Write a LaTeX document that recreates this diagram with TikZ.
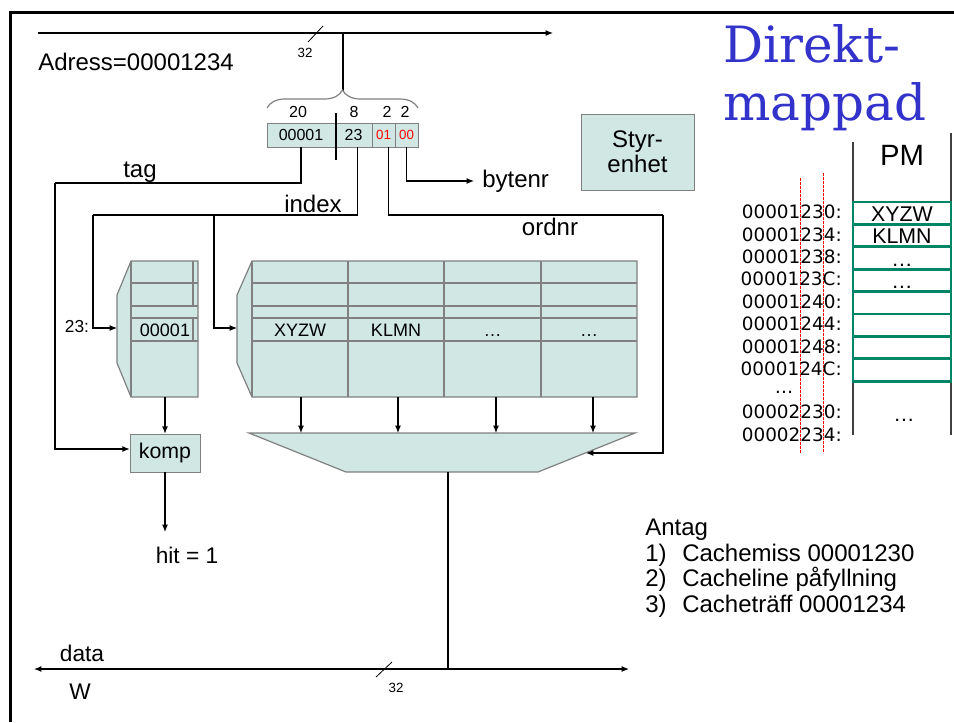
\documentclass[tikz,border=0pt]{standalone}
\usepackage{fontspec}
\setmainfont{Liberation Sans}
\newfontfamily\titlefont{DejaVu Serif}
\newfontfamily\adrfont{DejaVu Sans}
\usetikzlibrary{arrows.meta, positioning, decorations.pathreplacing}
\definecolor{cellfill}{RGB}{208,231,228}
\definecolor{cellline}{RGB}{128,128,128}
\definecolor{pmgreen}{RGB}{0,133,102}
\definecolor{titleblue}{RGB}{51,51,204}
\tikzset{
  field/.style={
    draw=cellline,
    fill=cellfill,
    rectangle,
    inner sep=0pt,
    outer sep=0pt,
    minimum height=18pt,
    font=\fontsize{12}{14}\selectfont
  },
  redfield/.style={
    field,
    text=red,
    font=\fontsize{10}{12}\selectfont
  },
  box/.style={
    draw=cellline,
    fill=cellfill,
    rectangle,
    inner sep=0pt,
    align=center
  },
  wire/.style={
    draw=black,
    line width=0.9pt
  },
  arrow/.style={
    wire,
    -{Latex[length=5.5pt,width=4.5pt]}
  },
  memline/.style={
    draw=cellline,
    line width=0.9pt
  },
  pmline/.style={
    draw=black!75,
    line width=1pt
  },
  redline/.style={
    draw=red,
    line width=0.6pt,
    dash pattern=on 2pt off 1pt
  },
  lbl/.style={
    inner sep=0pt,
    font=\fontsize{18}{19.1}\selectfont
  },
  bits/.style={
    inner sep=0pt,
    font=\fontsize{12}{14}\selectfont
  },
  celltext/.style={
    inner sep=0pt,
    anchor=base,
    font=\fontsize{13.5}{15}\selectfont
  },
  pmrow/.style={
    draw=pmgreen,
    line width=2pt,
    rectangle,
    minimum width=73.5pt,
    minimum height=16.8pt,
    inner sep=0pt
  },
  pmtext/.style={
    inner sep=0pt,
    anchor=base,
    font=\fontsize{16}{18}\selectfont
  },
  adr/.style={
    inner sep=0pt,
    anchor=east,
    font=\adrfont\fontsize{13.8}{15}\selectfont
  },
  title/.style={
    inner sep=0pt,
    anchor=base west,
    text=titleblue,
    font=\titlefont\fontsize{37.5}{43}\selectfont
  }
}

\begin{document}
\begin{tikzpicture}[x=0.75pt, y=-0.75pt, node distance=0pt]
\useasboundingbox (0,0) rectangle (954,722);

% ram
\draw[line width=2.25pt] (10,722) -- (10,12) -- (954,12);

% adressbuss
\coordinate (abusL) at (38,33);
\coordinate (abusR) at (553,33);
\coordinate (abtap) at (343,33);
\coordinate (brtip) at (343,91);
\draw[arrow] (abusL) -- (abusR);
\draw[wire, line width=0.6pt] (308,42) -- (323,26);
\node[bits, font=\fontsize{10}{12}\selectfont] (abw) at (305,53) {32};
\node[lbl, anchor=west] (adress) at (38,62) {Adress=00001234};
\draw[wire] (abtap) -- (brtip);
\draw[memline, decorate, decoration={brace, amplitude=13.5pt}] (267,108) -- (418,108);

% adressfaelt
\node[bits] (b20) at (298,112) {20};
\node[bits] (b8) at (354,112) {8};
\node[bits] (b2a) at (387,112) {2};
\node[bits] (b2b) at (405,112) {2};
\node[field, minimum width=51pt] (ftag) at (301,135) {00001};
\node[field, minimum width=27.75pt, right=of ftag] (fidx) {23};
\node[redfield, minimum width=17.25pt, right=of fidx] (ford) {01};
\node[redfield, minimum width=17.25pt, right=of ford] (fbyte) {00};
\draw[wire] (336,113) -- (336,160);

% styrenhet och rubrik
\node[box, minimum width=84.75pt, minimum height=57pt, font=\fontsize{18}{18.75}\selectfont] (styr) at (637.5,152) {Styr-\\enhet};
\node[title] (title1) at (723,62) {Direkt-};
\node[title] (title2) at (723,120) {mappad};

% tagg-minne
\filldraw[memline, fill=cellfill] (131,261) -- (198,261) -- (198,397) -- (131,397) -- (117,363) -- (117,295) -- cycle;
\foreach \y in {283,306,318,341}
  \draw[memline] (131,\y) -- (198,\y);
\draw[memline] (131,261) -- (131,397);
\draw[memline] (193,261) -- (193,306) (193,318) -- (193,341);
\node[celltext] (tagval) at (165,336.5) {00001};

% data-minne
\filldraw[memline, fill=cellfill] (252,261) -- (637,261) -- (637,397) -- (252,397) -- (237,363) -- (237,295) -- cycle;
\foreach \y in {283,306,318,341}
  \draw[memline] (252,\y) -- (637,\y);
\foreach \x in {252,348,444,541}
  \draw[memline] (\x,261) -- (\x,397);
\node[celltext] (w0) at (300,336.5) {XYZW};
\node[celltext] (w1) at (396,336.5) {KLMN};
\node[celltext] (w2) at (492.5,336.5) {…};
\node[celltext] (w3) at (589,336.5) {…};

% mux
\filldraw[memline, fill=cellfill] (249,433) -- (635,433) -- (538,472) -- (346,472) -- cycle;
\foreach \x [count=\i] in {301,398,496,593} {
  \coordinate (dout\i) at (\x,397);
  \coordinate (muxin\i) at (\x,433);
  \draw[arrow] (dout\i) -- (muxin\i);
}

% komparator
\node[box, minimum width=52.5pt, minimum height=28.5pt, font=\fontsize{16}{18}\selectfont] (komp) at (165,453) {komp};
\node[lbl, font=\fontsize{17}{19}\selectfont] (hit) at (187,555) {hit = 1};

% etiketter
\node[lbl] (ltag) at (140,172) {tag};
\node[lbl] (lidx) at (313,204) {index};
\node[lbl] (lord) at (550,227) {ordnr};
\node[lbl, anchor=west] (bytenr) at (482,181) {bytenr};
\node[lbl, font=\fontsize{13}{15}\selectfont] (l23) at (77,327) {23:};

% ledningar
\coordinate (tagbend) at (55,183);
\coordinate (idxbend) at (93,215);
\coordinate (idxsplit) at (214,215);
\coordinate (tagdec) at (117,328);
\coordinate (datadec) at (237,328);
\coordinate (ordbend) at (663,215);
\coordinate (muxsel) at (586,453);
\coordinate (tagout) at (165,397);
\coordinate (hitend) at (165,532);
\draw[wire] (ftag.south) |- (tagbend);
\draw[arrow] (tagbend) |- ([yshift=3pt]komp.west);
\draw[wire] ([xshift=3pt]fidx.south) |- (idxbend);
\draw[arrow] (idxbend) |- (tagdec);
\draw[arrow] (idxsplit) |- (datadec);
\draw[wire] ([xshift=3.5pt]ford.south) |- (ordbend);
\draw[arrow] (ordbend) |- (muxsel);
\draw[arrow, shorten >=6pt] (fbyte.south) |- (bytenr.west);
\draw[arrow] (tagout) -- (komp.north);
\draw[arrow] (komp.south) -- (hitend);

% databuss
\coordinate (dbusL) at (34,669);
\coordinate (dbusR) at (629,669);
\coordinate (muxout) at (448,472);
\coordinate (dbtap) at (448,669);
\draw[wire, {Latex[length=5.5pt,width=4.5pt]}-{Latex[length=5.5pt,width=4.5pt]}] (dbusL) -- (dbusR);
\draw[wire] (muxout) -- (dbtap);
\draw[wire, line width=0.6pt] (376,677) -- (392,662);
\node[bits, font=\fontsize{10}{12}\selectfont] (dbw) at (396,688) {32};
\node[lbl, font=\fontsize{17}{19}\selectfont] (ldata) at (82,653) {data};
\node[lbl, font=\fontsize{17}{19}\selectfont] (lw) at (80,692) {W};

% primaerminne
\coordinate (pmL1) at (853,142);
\coordinate (pmL2) at (853,435);
\coordinate (pmR1) at (951,133);
\coordinate (pmR2) at (951,435);
\draw[pmline] (pmL1) -- (pmL2);
\draw[pmline] (pmR1) -- (pmR2);
\node[lbl, font=\fontsize{22}{24}\selectfont] (pm) at (902,155) {PM};
\draw[redline] (800,178) -- (800,453);
\draw[redline] (823,173) -- (823,453);
\foreach \i in {0,...,7}
  \node[pmrow] (pm\i) at (902,{213.2+22.4*\i}) {};
\node[pmtext] (pmt0) at ([yshift=3.4pt]pm0.south) {XYZW};
\node[pmtext] (pmt1) at ([yshift=3.4pt]pm1.south) {KLMN};
\node[pmtext] (pmt2) at ([yshift=3.4pt]pm2.south) {…};
\node[pmtext] (pmt3) at ([yshift=3.4pt]pm3.south) {…};
\node[pmtext] (pmt4) at (904,421) {…};
\foreach \a [count=\i from 0] in {00001230,00001234,00001238,0000123C,00001240,00001244,00001248,0000124C}
  \node[adr] (adr\i) at (842,{212+22.4*\i}) {\a:};
\node[adr, anchor=base] (adrdots) at (784,393) {…};
\node[adr] (adr8) at (842,412) {00002230:};
\node[adr] (adr9) at (842,435) {00002234:};

% antaganden
\node[lbl, align=left, anchor=north west] (antag) at (645,519) {Antag\\
\makebox[27.75pt][l]{1)}Cachemiss 00001230\\
\makebox[27.75pt][l]{2)}Cacheline påfyllning\\
\makebox[27.75pt][l]{3)}Cacheträff 00001234};

\end{tikzpicture}
\end{document}
